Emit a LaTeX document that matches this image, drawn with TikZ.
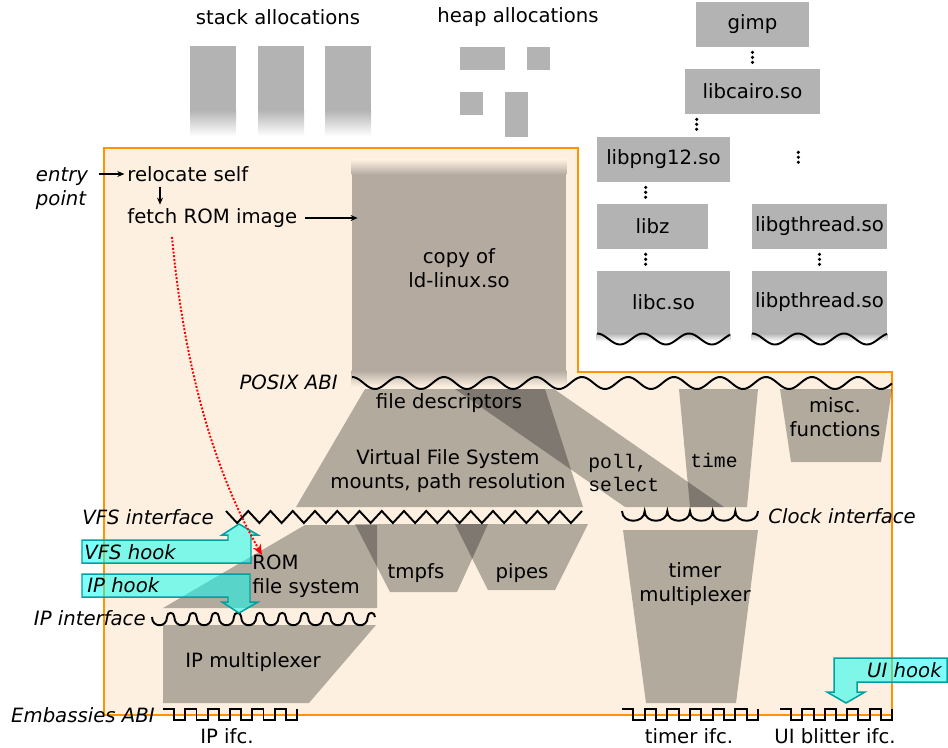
\documentclass[tikz,border=0pt]{standalone}
\usepackage{fontspec}
\setmainfont{DejaVu Sans}
\setmonofont{Liberation Mono}
\usetikzlibrary{arrows.meta}

\definecolor{sandbox}{RGB}{253,240,224}
\definecolor{sandline}{RGB}{255,148,0}
\definecolor{libgray}{RGB}{179,179,179}
\definecolor{layer}{RGB}{180,170,160}
\definecolor{hookfill}{RGB}{0,255,243}
\definecolor{hookline}{RGB}{0,160,160}

\tikzset{
  txt/.style={font=\fontsize{11.2}{13.6}\selectfont, inner sep=0pt, align=center},
  ital/.style={txt, font=\fontsize{11.2}{13.6}\selectfont\itshape},
  code/.style={txt, font=\fontsize{11.2}{13.6}\selectfont\ttfamily, align=left},
  lib/.style={txt, fill=libgray, minimum height=0.9cm},
  libdots/.style={line width=2pt, line cap=round, dash pattern=on 0pt off 2.84pt,
    shorten <=2.84pt, shorten >=3.6pt},
  part/.style={fill=black, fill opacity=0.29},
  iface/.style={draw=black, line width=1.1pt},
  hook/.style={fill=hookfill, fill opacity=0.5, draw=hookline, line width=0.85pt},
  arr/.style={line width=0.7pt, -{Stealth[length=4pt, width=3.4pt]}}
}

\begin{document}
\begin{tikzpicture}[x=0.02cm, y=-0.02cm]
  \useasboundingbox (0,0) rectangle (948,748);

  % Stack and heap
  \node[txt] (stacklbl) at (278,17) {stack allocations};
  \node[txt] (heaplbl) at (518,17) {heap allocations};
  \foreach \x in {190,258,325} {
    \fill[libgray] (\x,46) rectangle ++(46,64);
    \shade[top color=libgray, bottom color=white] (\x,110) rectangle ++(46,26);
  }
  \fill[libgray] (460,47) rectangle (505,70);
  \fill[libgray] (527,47) rectangle (550,70);
  \fill[libgray] (460,92) rectangle (483,115);
  \fill[libgray] (505,92) rectangle (528,137);

  % Shared libraries of the host
  \node[lib, minimum width=2.26cm] (gimp) at (752.5,24.5) {gimp};
  \node[lib, minimum width=2.7cm] (libcairo) at (752.5,91.5) {libcairo.so};
  \node[lib, minimum width=2.66cm] (libpng) at (663.5,159.5) {libpng12.so};
  \node[lib, minimum width=2.22cm] (libz) at (652.5,226.5) {libz};
  \node[lib, minimum width=2.66cm, minimum height=1.24cm] (libc) at (663.5,302) {\raisebox{-2pt}{libc.so}};
  \node[lib, minimum width=2.7cm] (libgthread) at (819.5,226.5) {libgthread.so};
  \node[lib, minimum width=2.7cm, minimum height=1.24cm] (libpthread) at (819.5,302) {\raisebox{-2pt}{libpthread.so}};
  \draw[libdots] (gimp.south) -- (gimp.south |- libcairo.north);
  \draw[libdots] (libcairo.south west) ++(12,0) -- ++(0,23);
  \draw[libdots] (libpng.south west) ++(49,0) -- ++(0,22);
  \draw[libdots] (libz.south west) ++(49,0) -- ++(0,22);
  \draw[libdots] (libgthread.south) -- (libgthread.south |- libpthread.north);
  \draw[libdots] (libcairo.south east) ++(-22,33) -- ++(0,25);
  \foreach \lib in {libc,libpthread} {
    \shade[top color=libgray, bottom color=white] (\lib.south west) rectangle ([yshift=-0.16cm]\lib.south east);
  }
  \draw[iface] plot[domain=597:730, samples=80, smooth] (\x,{339-5.5*cos(7.826*(\x-597))});
  \draw[iface] plot[domain=752:887, samples=80, smooth] (\x,{339-5.5*cos(7.826*(\x-752))});

  % Sandbox
  \filldraw[fill=sandbox, draw=sandline, line width=1.1pt]
    (104,148) -- (578,148) -- (578,372) -- (892,372) -- (892,715) -- (104,715) -- cycle;

  % copy of the loader
  \node[txt, fill=layer, minimum width=4.28cm, minimum height=4.32cm] (ldcopy) at (459,268) {copy of\\ld-linux.so};
  \shade[top color=sandbox, bottom color=layer] (ldcopy.north west) rectangle ([yshift=-0.3cm]ldcopy.north east);
  \shade[top color=layer, bottom color=sandbox] ([yshift=0.12cm]ldcopy.south west) rectangle ([yshift=-0.2cm]ldcopy.south east);

  % Layers below the POSIX ABI
  \fill[part] (365,389) -- (545,389) -- (583,507) -- (296,507) -- cycle;
  \fill[part] (455,389) -- (554,389) -- (724,507) -- (625,507) -- cycle;
  \fill[part] (679,389) -- (758,389) -- (747,507) -- (690,507) -- cycle;
  \fill[part] (780,389) -- (892,389) -- (881,462) -- (791,462) -- cycle;
  \fill[part] (305,525) -- (377,525) -- (377,608) -- (163,608) -- cycle;
  \fill[part] (355,524) -- (488,524) -- (457,592) -- (390,592) -- cycle;
  \fill[part] (455,524) -- (588,524) -- (555,590) -- (488,590) -- cycle;
  \fill[part] (163,625) -- (376,625) -- (309,703) -- (163,703) -- cycle;
  \fill[part] (623,530) -- (758,530) -- (736,703) -- (646,703) -- cycle;

  % Interfaces
  \draw[iface] plot[domain=352:892, samples=240, smooth] (\x,{383-6*cos(7.826*(\x-352))});
  \draw[iface] (226,511) \foreach \i in {1,...,16} { -- ++(11.125,12) -- ++(11.125,-12) };
  \draw[iface] (622,511) \foreach \i in {1,...,6} { .. controls +(0,13) and +(0,13) .. ++(22.67,0) };
  \draw[iface] (152,617) \foreach \i in {1,...,10} {
    .. controls +(0,11) and +(0,11) .. ++(15,0) .. controls +(0,-5.5) and +(0,-5.5) .. ++(7.3,0) };
  \draw[iface] (163,709) \foreach \i in {1,...,6} { -- ++(11.17,0) -- ++(0,11) -- ++(11.17,0) -- ++(0,-11) };
  \draw[iface] (622,709) \foreach \i in {1,...,6} { -- ++(11.33,0) -- ++(0,11) -- ++(11.33,0) -- ++(0,-11) };
  \draw[iface] (780,709) \foreach \i in {1,...,5} { -- ++(11.2,0) -- ++(0,11) -- ++(11.2,0) -- ++(0,-11) };

  % Hooks
  \filldraw[hook] (82,540) -- (228,540) -- (228,535) -- (222,535) -- (239,524) -- (258,535)
    -- (251,535) -- (251,563) -- (82,563) -- cycle;
  \filldraw[hook] (82,574) -- (250,574) -- (250,602) -- (258,602) -- (239,613) -- (222,602)
    -- (228,602) -- (228,597) -- (82,597) -- cycle;
  \filldraw[hook] (834,658) -- (947,658) -- (947,682) -- (857,682) -- (857,692) -- (865,692)
    -- (846,703) -- (827,692) -- (834,692) -- cycle;

  % Labels
  \node[ital, align=left] (entry) at (62,189) {entry\\point};
  \node[txt, anchor=west] (reloc) at (127,174) {relocate self};
  \node[txt, anchor=west] (fetch) at (127,218) {fetch ROM image};
  \node[ital, anchor=east] (posix) at (338,382) {POSIX ABI};
  \node[ital, anchor=east] (vfsif) at (214,517) {VFS interface};
  \node[ital, anchor=west] (clockif) at (768,516) {Clock interface};
  \node[ital, anchor=east] (ipif) at (146,618) {IP interface};
  \node[ital, anchor=east] (embabi) at (155,715) {Embassies ABI};
  \node[txt] (fd) at (449,403) {file descriptors};
  \node[txt] (vfs) at (448,471) {Virtual File System\\mounts, path resolution};
  \node[code, anchor=west] (poll) at (588,473) {poll,\\select};
  \node[code] (time) at (714,460) {time};
  \node[txt] (misc) at (835,417) {misc.\\functions};
  \node[txt, align=left, anchor=north west] (rom) at (252,555) {ROM\\file system};
  \node[txt] (tmpfs) at (416,573) {tmpfs};
  \node[txt] (pipes) at (522,573) {pipes};
  \node[txt] (ipmux) at (253,662) {IP multiplexer};
  \node[txt] (timermux) at (695,584) {timer\\multiplexer};
  \node[txt] (ipifc) at (227,736) {IP ifc.};
  \node[txt] (timerifc) at (689,736) {timer ifc.};
  \node[txt] (uiifc) at (835,736) {UI blitter ifc.};
  \node[ital, anchor=west] (vfshook) at (84,552) {VFS hook};
  \node[ital, anchor=west] (iphook) at (87,585) {IP hook};
  \node[ital, anchor=east] (uihook) at (942,670) {UI hook};

  % Start-up path
  \draw[arr, shorten <=6pt, shorten >=1.5pt] (entry.east |- reloc.west) -- (reloc.west);
  \draw[arr, shorten <=3pt, shorten >=2pt] ([xshift=0.66cm]reloc.south west) -- ([xshift=0.66cm]fetch.north west);
  \draw[arr, shorten <=4pt, shorten >=-3.4pt] (fetch.east) -- (fetch.east -| ldcopy.west);
  \draw[red, densely dotted, line width=1.1pt, -{Stealth[length=6pt, width=5pt]}]
    ([xshift=0.9cm, yshift=-0.18cm]fetch.south west) .. controls +(14,150) and +(-40,-70) .. ([xshift=0.2cm]rom.north west);
\end{tikzpicture}
\end{document}
